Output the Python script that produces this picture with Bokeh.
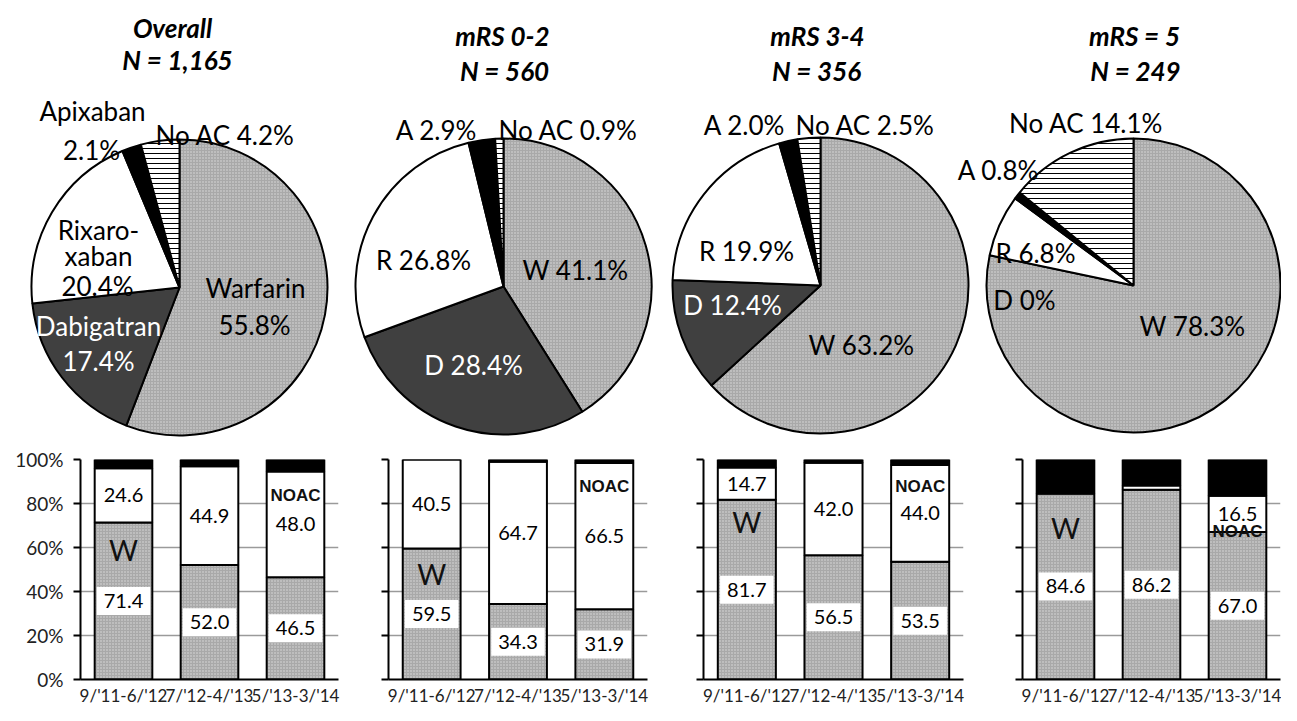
import math
from bokeh.plotting import figure
from bokeh.layouts import column, row
from bokeh.models import Range1d, FactorRange, FixedTicker, PrintfTickFormatter, ColumnDataSource
from bokeh.core.properties import value
from bokeh.embed import file_html
from bokeh.resources import INLINE

# ---------------- data ----------------
drugs = ["Warfarin", "Dabigatran", "Rixaroxaban", "Apixaban", "No AC"]
panel_titles = ["Overall", "mRS 0-2", "mRS 3-4", "mRS = 5"]
panel_n = ["N = 1,165", "N = 560", "N = 356", "N = 249"]

pie_overall = [55.8, 17.4, 20.4, 2.1, 4.2]
pie_mrs02 = [41.1, 28.4, 26.8, 2.9, 0.9]
pie_mrs34 = [63.2, 12.4, 19.9, 2.0, 2.5]
pie_mrs5 = [78.3, 0.0, 6.8, 0.8, 14.1]

periods = ["9/'11-6/'12", "7/'12-4/'13", "5/'13-3/'14"]
warfarin_overall = [71.4, 52.0, 46.5]
noac_overall = [24.6, 44.9, 48.0]
noac_none_overall = [4.0, 3.1, 5.5]
warfarin_mrs02 = [59.5, 34.3, 31.9]
noac_mrs02 = [40.5, 64.7, 66.5]
none_mrs02 = [0.0, 1.0, 1.6]
warfarin_mrs34 = [81.7, 56.5, 53.5]
noac_mrs34 = [14.7, 42.0, 44.0]
none_mrs34 = [3.6, 1.5, 2.5]
warfarin_mrs5 = [84.6, 86.2, 67.0]
noac_mrs5 = [0.0, 2.0, 16.5]
none_mrs5 = [15.4, 11.8, 16.5]

y_ticks = [0, 20, 40, 60, 80, 100]

pies = [pie_overall, pie_mrs02, pie_mrs34, pie_mrs5]
bars = [(warfarin_overall, noac_overall, noac_none_overall),
        (warfarin_mrs02, noac_mrs02, none_mrs02),
        (warfarin_mrs34, noac_mrs34, none_mrs34),
        (warfarin_mrs5, noac_mrs5, none_mrs5)]

# ---------------- styles / layout ----------------
FONT = "Lato"
W_FILL = "#a9a9a9"
W_DOTS = "#dedede"
slice_fill = [W_FILL, "#404040", "white", "black", "white"]
slice_hatch = ["dot", " ", " ", " ", "horizontal_line"]
slice_hatch_color = [W_DOTS, "white", "white", "white", "black"]
slice_hatch_scale = [3, 6, 6, 6, 5]

TOP_W, TOP_H = 1281, 438
TEXT_SHIFT = 8   # compensation for baseline placement of alphabetic text

def X(rx):
    return rx
def Y(ry):
    return TOP_H - ry
def YT(ry):
    return TOP_H - ry + TEXT_SHIFT

pie_centers = [(179, 287), (503, 286), (820, 285), (1149, 285)]
pie_shift = [0, 0, 0, -16]          # last pie nudged left to stay inside the page
pie_radii = [148, 148, 148, 147]

title_pos = [((172, 35), (177, 67)), ((502, 43), (504, 78)),
             ((817, 43), (816, 78)), ((1134, 43), (1135, 78))]

# (slice index, template, ref x, ref baseline y, colour)
label_layout = [
    [(0, "Warfarin", 255, 295, "black"), (0, "{p}", 254, 332, "black"),
     (1, "Dabigatran", 98, 333, "white"), (1, "{p}", 98, 368, "white"),
     (2, "Rixaro-", 98, 237, "black"), (2, "xaban", 98, 263, "black"), (2, "{p}", 97, 293, "black"),
     (3, "Apixaban", 92, 118, "black"), (3, "{p}", 91, 157, "black"),
     (4, "No AC  {p}", 228, 142, "black")],
    [(0, "W {p}", 575, 277, "black"), (1, "D {p}", 473, 372, "white"),
     (2, "R {p}", 423, 267, "black"), (3, "A {p}", 436, 137, "black"),
     (4, "No AC  {p}", 571, 137, "black")],
    [(0, "W {p}", 861, 352, "black"), (1, "D {p}", 732, 312, "white"),
     (2, "R {p}", 746, 258, "black"), (3, "A {p}", 744, 132, "black"),
     (4, "No AC  {p}", 868, 132, "black")],
    [(0, "W {p}", 1208, 333, "black"), (1, "D {p}", 1040, 307, "black"),
     (2, "R {p}", 1051, 260, "black"), (3, "A {p}", 1014, 177, "black"),
     (4, "No AC  {p}", 1105, 130, "black")],
]

def pct(v):
    return "0%" if v == 0 else f"{v:.1f}%"

# ---------------- top row: pies ----------------
top = figure(width=TOP_W, height=TOP_H, x_range=Range1d(0, TOP_W), y_range=Range1d(0, TOP_H),
             output_backend="svg", toolbar_location=None, min_border=0,
             x_axis_type=None, y_axis_type=None)
top.grid.visible = False
top.outline_line_color = None

for k, vals in enumerate(pies):
    total = sum(vals)
    cx, cy = pie_centers[k]
    dx = pie_shift[k]
    starts, ends, idx = [], [], []
    cum = 0.0
    for i, v in enumerate(vals):
        a0 = math.pi / 2 - 2 * math.pi * cum / total
        cum += v
        a1 = math.pi / 2 - 2 * math.pi * cum / total
        if v > 0:
            starts.append(a0); ends.append(a1); idx.append(i)
    src = ColumnDataSource(dict(
        x=[X(cx + dx)] * len(idx), y=[Y(cy)] * len(idx),
        start=starts, end=ends,
        fill=[slice_fill[i] for i in idx],
        hatch=[slice_hatch[i] for i in idx],
        hcol=[slice_hatch_color[i] for i in idx],
        hscale=[slice_hatch_scale[i] for i in idx],
        drug=[drugs[i] for i in idx]))
    top.wedge(x="x", y="y", radius=pie_radii[k], start_angle="start", end_angle="end",
              direction="clock", source=src, fill_color="fill", line_color="black",
              line_width=2, hatch_pattern="hatch", hatch_color="hcol", hatch_scale="hscale",
              hatch_weight=1)
    (t1x, t1y), (t2x, t2y) = title_pos[k]
    top.text(x=[X(t1x), X(t2x)], y=[YT(t1y), YT(t2y)], text=[panel_titles[k], panel_n[k]],
             text_font=value(FONT), text_font_style="bold italic", text_font_size="26px",
             text_align="center", text_baseline="alphabetic", text_color="black")
    lx, ly, lt, lc = [], [], [], []
    for (si, tmpl, rx, ry, col) in label_layout[k]:
        lx.append(X(rx + dx)); ly.append(YT(ry)); lt.append(tmpl.format(p=pct(vals[si]))); lc.append(col)
    top.text(x=lx, y=ly, text=lt, text_color=lc, text_font=value(FONT), text_font_size="26px",
             text_align="center", text_baseline="alphabetic")

# ---------------- bottom row: stacked bars ----------------
# (frame width, left border, right border)
bar_geom = [(258, 80, 2), (259, 48, 8), (260, 48, 12), (258, 47, 1)]
w_tag_y = [59, 48, 71.4, 69]
noac_tag_y = [83.5, 87.7, 87.7, 67.4]

bar_figs = []
for k, (wv, nv, zv) in enumerate(bars):
    fw, bl, br = bar_geom[k]
    p = figure(frame_width=fw, frame_height=220,
               x_range=FactorRange(factors=periods, range_padding=0),
               y_range=Range1d(0, 100), output_backend="svg", toolbar_location=None,
               min_border_left=bl, min_border_right=br, min_border_top=21, min_border_bottom=24)
    p.outline_line_color = None
    p.xgrid.grid_line_color = None
    p.ygrid.grid_line_color = "#9a9a9a"
    p.ygrid.grid_line_width = 1.3
    p.ygrid.ticker = FixedTicker(ticks=y_ticks)
    p.yaxis.ticker = FixedTicker(ticks=y_ticks)
    p.yaxis.axis_line_width = 2
    p.yaxis.axis_line_color = "black"
    p.yaxis.major_tick_out = 7
    p.yaxis.major_tick_in = 0
    p.yaxis.major_tick_line_width = 2
    p.yaxis.minor_tick_line_color = None
    p.yaxis.major_label_text_font = FONT
    p.yaxis.major_label_text_font_size = "19px"
    p.yaxis.major_label_text_color = "#222222"
    p.yaxis.major_label_standoff = 10
    if k == 0:
        p.yaxis.formatter = PrintfTickFormatter(format="%d%%")
    else:
        p.yaxis.major_label_overrides = {t: "" for t in y_ticks}
    p.xaxis.axis_line_width = 2
    p.xaxis.axis_line_color = "black"
    p.xaxis.major_tick_line_color = None
    p.xaxis.major_tick_out = 0
    p.xaxis.major_tick_in = 0
    p.xaxis.major_label_text_font = FONT
    p.xaxis.major_label_text_font_size = "17px"
    p.xaxis.major_label_text_color = "#222222"
    p.xaxis.major_label_standoff = 5

    src = ColumnDataSource(dict(period=periods, w=wv, noac=nv, none=zv))
    p.vbar_stack(["w", "noac", "none"], x="period", width=0.67, source=src,
                 fill_color=[W_FILL, "white", "black"], line_color="black", line_width=2,
                 hatch_pattern=["dot", " ", " "], hatch_color=[W_DOTS, "white", "white"],
                 hatch_scale=3, hatch_weight=1)

    p.text(x=periods, y=[v / 2 for v in wv], text=[f"{v:.1f}" for v in wv],
           text_font=value(FONT), text_font_size="20px", text_align="center",
           text_baseline="middle", text_color="black",
           background_fill_color="white", padding=7)
    nx, ny, nt = [], [], []
    for per, a, b in zip(periods, wv, nv):
        if b >= 5:
            nx.append(per); ny.append(a + b / 2); nt.append(f"{b:.1f}")
    p.text(x=nx, y=ny, text=nt, text_font=value(FONT), text_font_size="20px",
           text_align="center", text_baseline="middle", text_color="black")
    p.text(x=[periods[0]], y=[w_tag_y[k]], text=["W"], text_font=value(FONT),
           text_font_size="28px", text_align="center", text_baseline="middle", text_color="#111111")
    p.text(x=[periods[2]], y=[noac_tag_y[k]], text=["NOAC"], text_font=value("Liberation Sans"),
           text_font_style="bold", text_font_size="17px", text_align="center",
           text_baseline="middle", text_color="#111111")
    bar_figs.append(p)

layout = column(top, row(*bar_figs))
open("out.html", "w").write(file_html(layout, INLINE))
